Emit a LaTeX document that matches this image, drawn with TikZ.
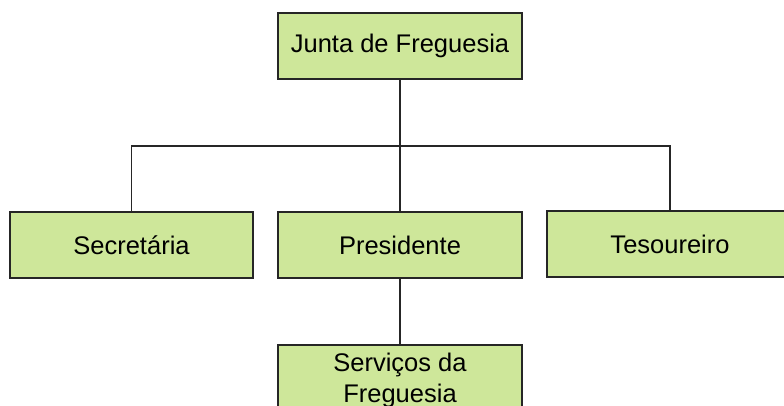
\documentclass[tikz,border=0pt]{standalone}
\usepackage{fontspec}
\setmainfont{Liberation Sans}
\definecolor{boxgreen}{RGB}{206,231,154}
\begin{document}
\begin{tikzpicture}[x=1pt, y=-1pt, box/.style={rectangle, draw=black!85, line width=1.6pt, fill=boxgreen, minimum width=244pt, minimum height=66pt, inner sep=0pt, align=center, font=\fontsize{25.5}{31}\selectfont}]
       \useasboundingbox (0, 0) rectangle (784, 406);
       \node[box] (junta) at (400, 46) {Junta de Freguesia};
       \node[box, minimum width=243pt] (secretaria) at (131.5, 245) {Secretária};
       \node[box] (presidente) at (400, 245) {Presidente};
       \node[box, minimum width=246pt] (tesoureiro) at (670, 244) {Tesoureiro};
       \node[box, minimum height=70pt] (servicos) at (400, 380) {Serviços da\\Freguesia};
       \coordinate (bar) at (400, 146);

       \draw[line width=1.5pt, black!85] (junta) -- (presidente);
       \draw[line width=1.5pt, black!85] (secretaria) |- (bar) -| (tesoureiro);
       \draw[line width=1.5pt, black!85] (presidente) -- (servicos);
     \end{tikzpicture}
\end{document}
